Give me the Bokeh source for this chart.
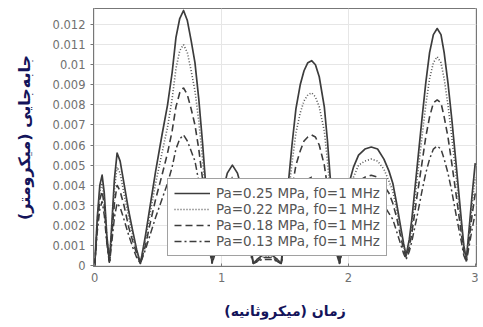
from bokeh.plotting import figure
from bokeh.models import ColumnDataSource, FixedTicker, Range1d, Legend, LegendItem
from bokeh.embed import file_html
from bokeh.resources import INLINE

# ---- data ----
time_us = [
    0.0, 0.02, 0.04, 0.058, 0.075, 0.095, 0.116,
    0.13, 0.155, 0.176, 0.20, 0.23, 0.268, 0.30, 0.33, 0.36,
    0.40, 0.44, 0.48, 0.53, 0.574, 0.61, 0.64, 0.67, 0.70, 0.73, 0.76, 0.79, 0.82, 0.85, 0.875, 0.90, 0.925,
    0.95, 0.98, 1.01, 1.045, 1.085, 1.125, 1.16, 1.19, 1.22, 1.25,
    1.28, 1.32, 1.36, 1.40, 1.44, 1.47,
    1.495, 1.525, 1.555, 1.586, 1.62, 1.65, 1.68, 1.71, 1.74, 1.77, 1.81, 1.835, 1.855, 1.875, 1.90, 1.93,
    1.955, 1.98, 2.005, 2.04, 2.08, 2.13, 2.18, 2.23, 2.28, 2.32, 2.35, 2.38, 2.41, 2.435, 2.455,
    2.48, 2.50, 2.54, 2.58, 2.61, 2.64, 2.67, 2.70, 2.73, 2.755, 2.785, 2.815, 2.85, 2.89, 2.91, 2.93,
    2.95, 2.975, 3.0,
]

disp_pa025 = [
    0, 0.0024, 0.0040, 0.0045, 0.0036, 0.0015, 0.0002,
    0.0016, 0.0043, 0.0056, 0.0052, 0.0041, 0.0027, 0.0017, 0.0008, 0.0001,
    0.0015, 0.0031, 0.0047, 0.0065, 0.0080, 0.0096, 0.01135, 0.0123, 0.0127, 0.0122, 0.0112, 0.0101, 0.0083, 0.0061, 0.0040, 0.0018, 0.0002,
    0.0012, 0.0026, 0.0037, 0.0046, 0.0050, 0.0046, 0.0038, 0.0027, 0.0014, 0.0001,
    0.0003, 0.0005, 0.0006, 0.0005, 0.0003, 0.0001,
    0.0019, 0.0040, 0.0060, 0.0078, 0.0090, 0.0097, 0.0101, 0.0102, 0.0100, 0.0094, 0.0079, 0.0062, 0.0045, 0.0031, 0.0016, 0.0001,
    0.0014, 0.0028, 0.0041, 0.0049, 0.0055, 0.0058, 0.0059, 0.0058, 0.0053, 0.0047, 0.0041, 0.0031, 0.0020, 0.0011, 0.0005,
    0.0013, 0.0023, 0.0048, 0.0073, 0.0091, 0.0106, 0.0115, 0.0118, 0.0115, 0.0106, 0.0091, 0.0073, 0.0050, 0.0023, 0.0010, 0.0003,
    0.0017, 0.0035, 0.0051,
]

disp_pa022 = [
    0, 0.0022, 0.0037, 0.0041, 0.0033, 0.0014, 0.0002,
    0.0014, 0.0038, 0.0049, 0.0046, 0.0036, 0.0024, 0.0015, 0.0007, 0.0001,
    0.0013, 0.0027, 0.0041, 0.0056, 0.0069, 0.0083, 0.0098, 0.0107, 0.0110, 0.0106, 0.0097, 0.0087, 0.0072, 0.0053, 0.0035, 0.0016, 0.0002,
    0.0011, 0.0023, 0.0033, 0.0040, 0.0044, 0.0040, 0.0033, 0.0024, 0.0012, 0.0001,
    0.0003, 0.0004, 0.0005, 0.0004, 0.0003, 0.0001,
    0.0016, 0.0034, 0.0051, 0.0066, 0.0076, 0.0082, 0.0085, 0.0086, 0.0084, 0.0079, 0.0067, 0.0052, 0.0038, 0.0026, 0.0013, 0.0001,
    0.0013, 0.0025, 0.0037, 0.0044, 0.0050, 0.0052, 0.0053, 0.0052, 0.0048, 0.0042, 0.0037, 0.0028, 0.0018, 0.0010, 0.0005,
    0.0011, 0.0020, 0.0042, 0.0064, 0.0080, 0.0093, 0.0101, 0.0104, 0.0101, 0.0093, 0.0080, 0.0064, 0.0044, 0.0020, 0.0009, 0.0003,
    0.0015, 0.0030, 0.0044,
]

disp_pa018 = [
    0, 0.0020, 0.0033, 0.0037, 0.0030, 0.0012, 0.0002,
    0.0012, 0.0031, 0.0040, 0.0037, 0.0030, 0.0019, 0.0012, 0.0006, 0.0001,
    0.0010, 0.0022, 0.0033, 0.0045, 0.0056, 0.0067, 0.0079, 0.0086, 0.00885, 0.0085, 0.0078, 0.0070, 0.0058, 0.0043, 0.0028, 0.0013, 0.0001,
    0.0009, 0.0019, 0.0027, 0.0033, 0.0036, 0.0033, 0.0027, 0.0019, 0.0010, 0.0001,
    0.0002, 0.0004, 0.0004, 0.0004, 0.0002, 0.0001,
    0.0012, 0.0025, 0.0038, 0.0050, 0.0057, 0.0062, 0.0064, 0.0065, 0.0064, 0.0060, 0.0050, 0.0039, 0.0029, 0.0020, 0.0010, 0.0001,
    0.0011, 0.0021, 0.0031, 0.0037, 0.0042, 0.0044, 0.0045, 0.0044, 0.0040, 0.0036, 0.0031, 0.0024, 0.0015, 0.0008, 0.0004,
    0.0009, 0.0016, 0.0034, 0.0051, 0.0064, 0.0074, 0.0081, 0.00825, 0.0081, 0.0074, 0.0064, 0.0051, 0.0035, 0.0016, 0.0007, 0.0002,
    0.0012, 0.0025, 0.0036,
]

disp_pa013 = [
    0, 0.0017, 0.0028, 0.0032, 0.0025, 0.0011, 0.0001,
    0.0009, 0.0024, 0.0031, 0.0029, 0.0023, 0.0015, 0.0009, 0.0004, 0.0001,
    0.0008, 0.0016, 0.0024, 0.0033, 0.0041, 0.0049, 0.0058, 0.0063, 0.0065, 0.0062, 0.0057, 0.0052, 0.0042, 0.0031, 0.0020, 0.0009, 0.0001,
    0.0006, 0.0014, 0.0019, 0.0024, 0.0026, 0.0024, 0.0020, 0.0014, 0.0007, 0.0001,
    0.0002, 0.0003, 0.0003, 0.0003, 0.0002, 0.0001,
    0.0008, 0.0017, 0.0026, 0.0034, 0.0039, 0.0042, 0.0043, 0.0044, 0.0043, 0.0040, 0.0034, 0.0027, 0.0019, 0.0013, 0.0007, 0.0001,
    0.0008, 0.0016, 0.0023, 0.0027, 0.0031, 0.0032, 0.0033, 0.0032, 0.0030, 0.0026, 0.0023, 0.0017, 0.0011, 0.0006, 0.0003,
    0.0007, 0.0012, 0.0024, 0.0037, 0.0046, 0.0053, 0.0058, 0.00595, 0.0058, 0.0053, 0.0046, 0.0037, 0.0025, 0.0012, 0.0005, 0.0002,
    0.0009, 0.0018, 0.0026,
]

series_labels = [
    "Pa=0.25 MPa, f0=1 MHz",
    "Pa=0.22 MPa, f0=1 MHz",
    "Pa=0.18 MPa, f0=1 MHz",
    "Pa=0.13 MPa, f0=1 MHz",
]

x_ticks = [0, 1, 2, 3]
y_ticks = [0, 0.001, 0.002, 0.003, 0.004, 0.005, 0.006, 0.007, 0.008, 0.009, 0.01, 0.011, 0.012]
y_tick_labels = ["0", "0.001", "0.002", "0.003", "0.004", "0.005", "0.006",
                 "0.007", "0.008", "0.009", "0.01", "0.011", "0.012"]

x_label = "زمان (میکروثانیه)"
y_label = "جابه‌جایی (میکرومتر)"

# ---- figure ----
p = figure(width=478, height=321, output_backend="svg", toolbar_location=None,
           x_range=Range1d(-0.01, 3.01), y_range=Range1d(-0.00005, 0.0128),
           min_border_left=93, min_border_right=2, min_border_top=8, min_border_bottom=10)
p.background_fill_color = "white"
p.border_fill_color = "white"
p.outline_line_color = "#777777"
p.outline_line_width = 1

src = ColumnDataSource(dict(t=time_us, a=disp_pa025, b=disp_pa022, c=disp_pa018, d=disp_pa013))

line_col = "#3c3c3c"
r1 = p.line("t", "a", source=src, line_color=line_col, line_width=1.7, line_join="round")
r2 = p.line("t", "b", source=src, line_color="#555555", line_width=1.6, line_dash="1 2")
r3 = p.line("t", "c", source=src, line_color=line_col, line_width=1.6, line_dash="7 4")
r4 = p.line("t", "d", source=src, line_color=line_col, line_width=1.5, line_dash="7 3 2 3")

# grid
p.xgrid.ticker = FixedTicker(ticks=x_ticks)
p.ygrid.ticker = FixedTicker(ticks=y_ticks)
p.grid.grid_line_color = "#e6e6e6"
p.grid.grid_line_width = 1

# axes
p.xaxis.ticker = FixedTicker(ticks=x_ticks)
p.yaxis.ticker = FixedTicker(ticks=y_ticks)
p.yaxis.major_label_overrides = {v: s for v, s in zip(y_ticks, y_tick_labels)}
p.xaxis.major_label_overrides = {v: str(v) for v in x_ticks}
for ax in (p.xaxis[0], p.yaxis[0]):
    ax.axis_line_color = "#777777"
    ax.major_tick_line_color = "#777777"
    ax.minor_tick_line_color = None
    ax.major_label_text_color = "#707070"
    ax.major_label_text_font = "DejaVu Sans"
    ax.major_label_text_font_size = "11.5px"
    ax.axis_label_text_font = "DejaVu Sans"
    ax.axis_label_text_font_style = "bold"
    ax.axis_label_text_color = "#14145a"
p.xaxis.axis_label_text_font_size = "14px"
p.yaxis.axis_label_text_font_size = "16px"
p.xaxis.major_tick_in = 3
p.xaxis.major_tick_out = 0
p.yaxis.major_tick_in = 0
p.yaxis.major_tick_out = 3
p.yaxis.major_label_standoff = 5
p.xaxis.major_label_standoff = 6
p.xaxis.axis_label = x_label
p.yaxis.axis_label = y_label
p.xaxis.axis_label_standoff = 18
p.yaxis.axis_label_standoff = 16

legend = Legend(items=[LegendItem(label=series_labels[0], renderers=[r1]),
                       LegendItem(label=series_labels[1], renderers=[r2]),
                       LegendItem(label=series_labels[2], renderers=[r3]),
                       LegendItem(label=series_labels[3], renderers=[r4])],
                location=(74, 10))
legend.label_text_font = "DejaVu Sans"
legend.label_text_font_size = "13.5px"
legend.label_text_color = "#555555"
legend.glyph_width = 36
legend.glyph_height = 14
legend.label_height = 14
legend.spacing = 0
legend.padding = 6
legend.margin = 0
legend.label_standoff = 6
legend.border_line_color = "#444444"
legend.border_line_width = 1.3
legend.background_fill_color = "white"
legend.background_fill_alpha = 1.0
p.add_layout(legend, "center")

open("out.html", "w").write(file_html(p, INLINE))
